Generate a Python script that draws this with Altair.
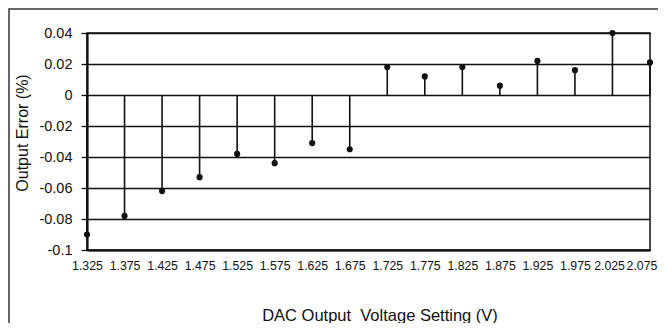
import altair as alt
import pandas as pd

voltages = [1.325, 1.375, 1.425, 1.475, 1.525, 1.575, 1.625, 1.675,
            1.725, 1.775, 1.825, 1.875, 1.925, 1.975, 2.025, 2.075]
errors = [-0.090, -0.078, -0.062, -0.053, -0.038, -0.044, -0.031, -0.035,
          0.018, 0.012, 0.018, 0.006, 0.022, 0.016, 0.040, 0.021]
y_ticks = [-0.1, -0.08, -0.06, -0.04, -0.02, 0, 0.02, 0.04]

df = pd.DataFrame({"v": voltages, "e": errors, "z": [0] * len(voltages)})

W, H = 563, 217
FONT = "Liberation Sans"
INK = "#111111"
NB = "\u00a0"
ZW = "\u200b"

x_axis = alt.Axis(
    values=voltages,
    tickCount=40,
    labelExpr=(
        "format(datum.value, '.3f') + (datum.value > 2.07 ? '" + NB * 5 + ZW
        + "' : (datum.value > 2.02 ? '" + NB * 2 + ZW + "' : ''))"
    ),
    title="DAC Output " + NB + "Voltage Setting (V)",
    grid=False,
    ticks=False,
    tickSize=0,
    labelPadding=9,
    labelFontSize=12.3,
    labelFlush=False,
    labelOverlap=False,
    labelBaseline="top",
    titleX=292.5,
    titleY=70,
    titleBaseline="alphabetic",
    titleAlign="center",
    titleFontSize=16.5,
    domainWidth=2,
    domainColor=INK,
)

y_axis = alt.Axis(
    values=y_ticks,
    tickCount=40,
    labelExpr="'' + datum.value",
    title="Output Error (%)",
    grid=True,
    gridColor=INK,
    gridWidth=1.3,
    gridOpacity=1,
    tickSize=6,
    tickColor=INK,
    tickWidth=1.3,
    labelPadding=9,
    labelFontSize=14.5,
    labelOverlap=False,
    labelBaseline="middle",
    titleX=-60,
    titleY=99.5,
    titleBaseline="alphabetic",
    titleAlign="center",
    titleAngle=270,
    titleFontSize=16,
    domainWidth=2.2,
    domainColor=INK,
)

x_scale = alt.Scale(domain=[1.325, 2.075], nice=False, zero=False)
y_scale = alt.Scale(domain=[-0.1, 0.04], nice=False, zero=False)

stems = alt.Chart(df).mark_rule(color=INK, strokeWidth=1.6).encode(
    x=alt.X("v:Q", scale=x_scale, axis=x_axis),
    y=alt.Y("e:Q", scale=y_scale, axis=y_axis),
    y2="z:Q",
)
dots = alt.Chart(df).mark_circle(color=INK, opacity=1, size=38).encode(
    x=alt.X("v:Q", scale=x_scale, axis=x_axis),
    y=alt.Y("e:Q", scale=y_scale, axis=y_axis),
)
border = alt.Chart(alt.Data(values=[{"a": 1}])).mark_rect(
    fillOpacity=0, stroke="#333333", strokeWidth=1.5
).encode(
    x=alt.value(-78), x2=alt.value(W + 100),
    y=alt.value(-24), y2=alt.value(H + 200),
)

chart = (
    alt.layer(border, stems, dots)
    .properties(
        width=W,
        height=H,
        autosize=alt.AutoSizeParams(type="none"),
        padding={"left": 79, "top": 25, "right": 8, "bottom": 73},
        background="white",
    )
    .configure_view(stroke=INK, strokeWidth=1.5)
    .configure_axis(
        labelFont=FONT,
        titleFont=FONT,
        labelColor=INK,
        titleColor=INK,
        titleFontWeight="normal",
    )
)

chart.save("out.html", embed_options={"renderer": "svg", "actions": False})
